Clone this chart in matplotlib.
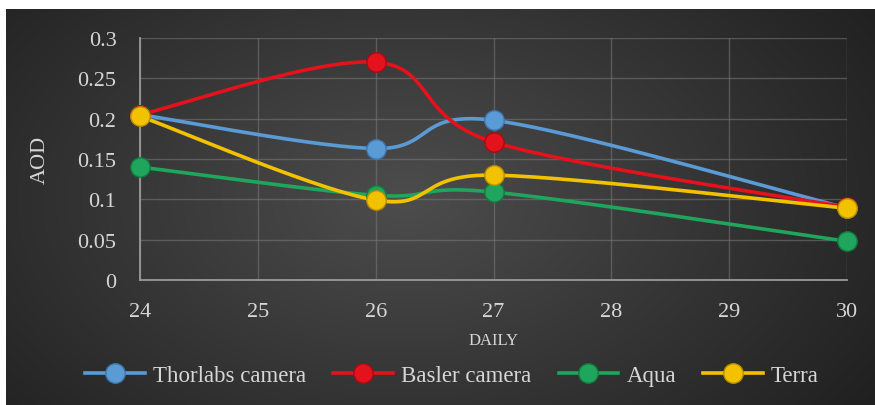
import numpy as np
import matplotlib.pyplot as plt
from matplotlib.lines import Line2D

days = [24, 26, 27, 30]
thorlabs = [0.205, 0.163, 0.198, 0.089]
basler = [0.205, 0.270, 0.171, 0.090]
aqua = [0.140, 0.105, 0.109, 0.048]
terra = [0.203, 0.099, 0.130, 0.089]

series = [
    ("Thorlabs camera", thorlabs, "#5b9bd5", "#3d77b0"),
    ("Basler camera", basler, "#e3121c", "#a50c12"),
    ("Aqua", aqua, "#1fa55c", "#127a40"),
    ("Terra", terra, "#f2c200", "#b88f00"),
]

x_ticks = [24, 25, 26, 27, 28, 29, 30]
y_ticks = [0, 0.05, 0.1, 0.15, 0.2, 0.25, 0.3]
y_tick_labels = ["0", "0.05", "0.1", "0.15", "0.2", "0.25", "0.3"]

W, H = 875, 406
txt = "#d6d6d6"
serif = ["Liberation Serif", "DejaVu Serif"]


def smooth(xv, yv, sx=117.8, sy=806.0, n=50):
    # cubic bezier smoothing in screen-like units
    p = np.column_stack([np.asarray(xv, float) * sx, np.asarray(yv, float) * sy])
    t = np.linspace(0, 1, n)[:, None]
    pts = []
    for i in range(len(p) - 1):
        p_prev = p[i - 1] if i > 0 else p[i]
        p_next = p[i + 2] if i + 2 < len(p) else p[i + 1]
        c1 = p[i] + (p[i + 1] - p_prev) / 6
        c2 = p[i + 1] - (p_next - p[i]) / 6
        seg = ((1 - t) ** 3) * p[i] + 3 * ((1 - t) ** 2) * t * c1 + 3 * (1 - t) * t ** 2 * c2 + t ** 3 * p[i + 1]
        pts.append(seg if i == 0 else seg[1:])
    pts = np.vstack(pts)
    return pts[:, 0] / sx, pts[:, 1] / sy


fig = plt.figure(figsize=(W / 100, H / 100), dpi=100, facecolor="white")

# dark panel with radial shading
bg = fig.add_axes([6 / W, 0, (W - 6) / W, (H - 10) / H])
bg.set_axis_off()
gy, gx = np.mgrid[0:396, 0:869]
r = np.sqrt(((gx - 400) / 520.0) ** 2 + ((gy - 190) / 330.0) ** 2)
shade = np.clip(0.30 - 0.16 * r, 0.12, 0.30)
bg.imshow(np.dstack([shade] * 3), aspect="auto", extent=[0, 1, 0, 1], interpolation="bilinear")
bg.set_xlim(0, 1)
bg.set_ylim(0, 1)

ax = fig.add_axes([140 / W, 1 - 281 / H, (847 - 140) / W, (281 - 39) / H])
ax.patch.set_alpha(0)
ax.set_xlim(24, 30)
ax.set_ylim(0, 0.3)
ax.set_xticks(x_ticks)
ax.set_yticks(y_ticks)
ax.set_yticklabels(y_tick_labels)
ax.grid(True, color="#7a7a7a", linewidth=1.0, alpha=0.55)
ax.set_axisbelow(True)
for side in ["top", "right"]:
    ax.spines[side].set_visible(False)
for side in ["left", "bottom"]:
    ax.spines[side].set_color("#9a9a9a")
    ax.spines[side].set_linewidth(1.3)
ax.tick_params(length=0, colors=txt, labelsize=16)
ax.tick_params(axis="x", pad=16)
ax.tick_params(axis="y", pad=17)
for lab in ax.get_xticklabels() + ax.get_yticklabels():
    lab.set_family(serif)

for name, vals, col, edge in series:
    sx_, sy_ = smooth(days, vals)
    ax.plot(sx_, sy_, color=col, linewidth=2.6, solid_capstyle="round", zorder=3, clip_on=False)
    ax.plot(days, vals, linestyle="none", marker="o", markersize=14, markerfacecolor=col,
            markeredgecolor=edge, markeredgewidth=1.0, zorder=4, clip_on=False)

ax.set_xlabel("DAILY", color=txt, fontsize=12, family=serif, labelpad=8)
ax.set_ylabel("AOD", color=txt, fontsize=16, family=serif, labelpad=20)

handles = [
    Line2D([], [], color=col, linewidth=2.6, marker="o", markersize=14,
           markerfacecolor=col, markeredgecolor=edge, markeredgewidth=1.0)
    for _, _, col, edge in series
]
leg = fig.legend(handles, [s[0] for s in series], loc="center", bbox_to_anchor=(452 / W, 1 - 376 / H),
                 ncol=4, frameon=False, handlelength=2.6, handletextpad=0.35, columnspacing=1.2,
                 prop={"family": serif, "size": 16.5})
for t in leg.get_texts():
    t.set_color(txt)

fig.savefig("out.png", dpi=100, facecolor="white")
